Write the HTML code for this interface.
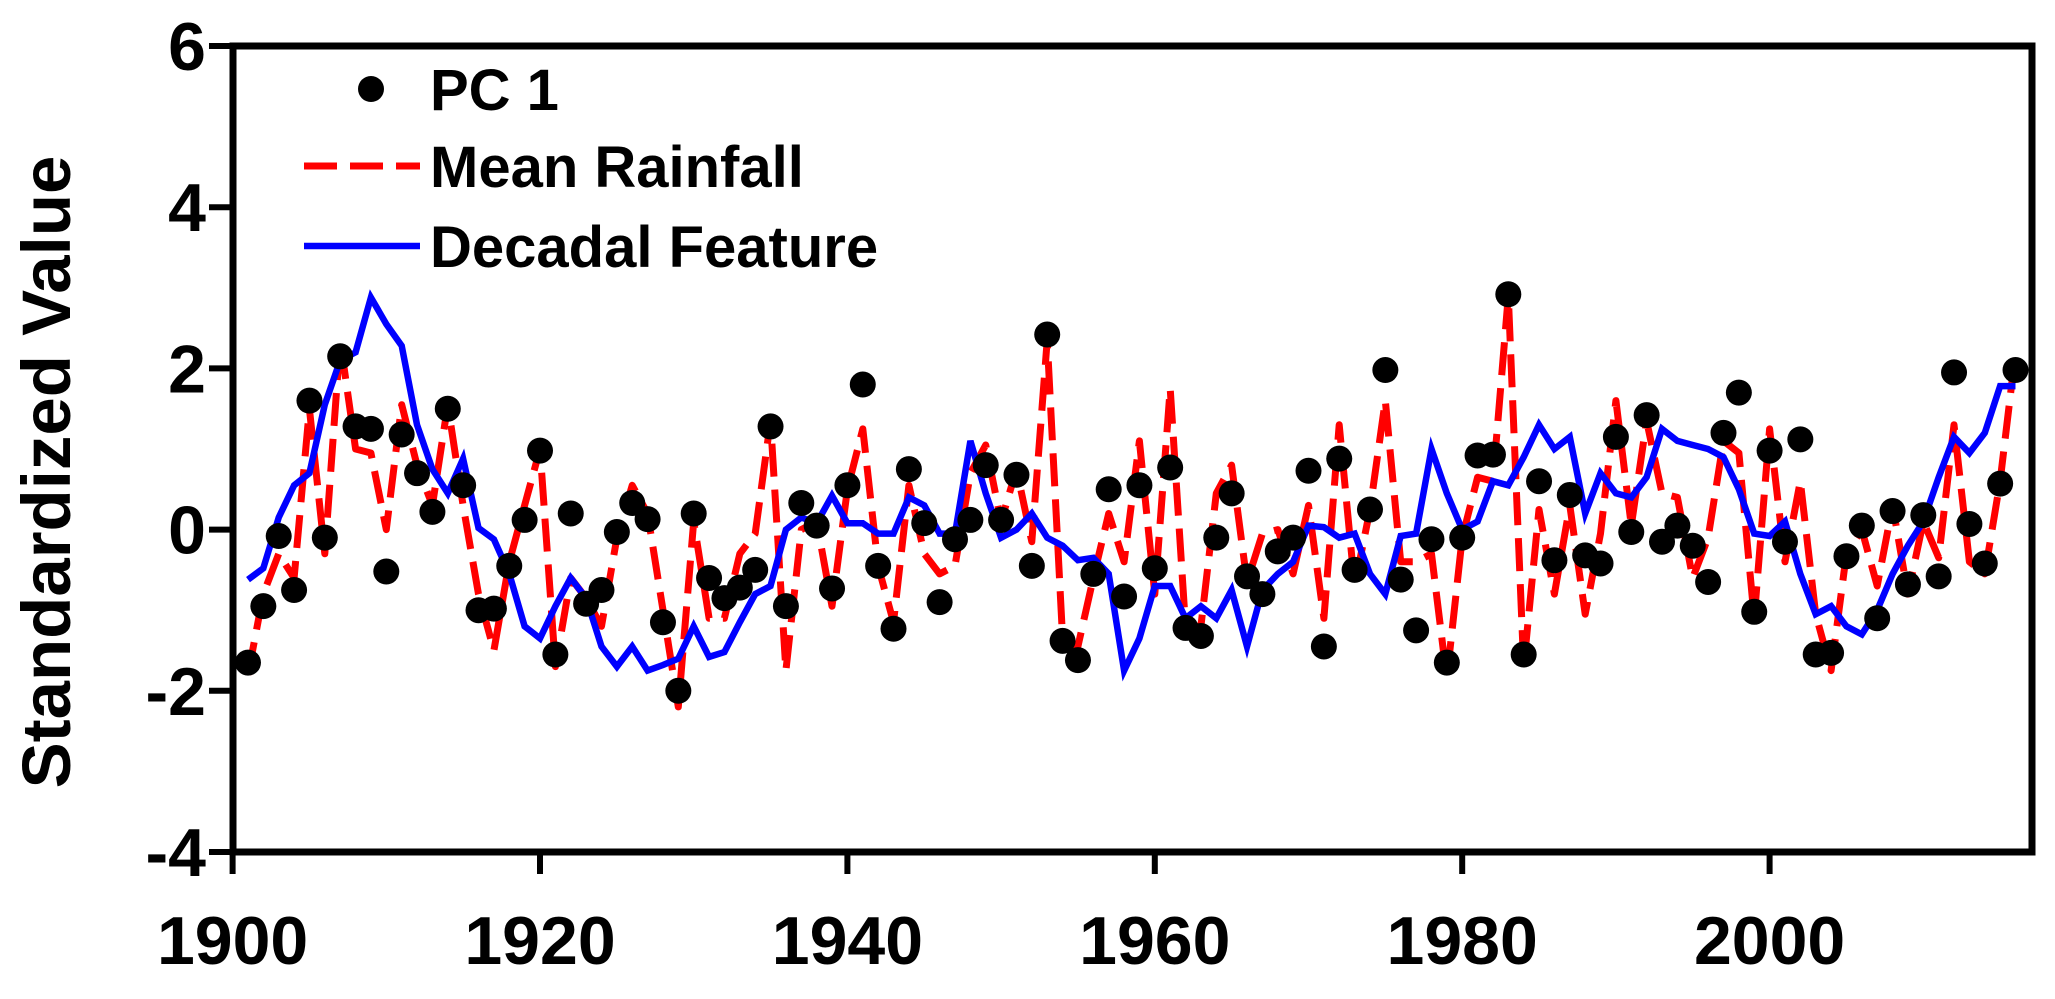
<!DOCTYPE html>
<html><head><meta charset="utf-8"><style>
html,body{margin:0;padding:0;background:#fff;}
svg{display:block;font-family:"Liberation Sans",Arial,sans-serif;font-weight:bold;}
</style></head><body>
<svg id="chart" width="2055" height="999" viewBox="0 0 2055 999">
<g id="plot"></g>
<g id="axes"></g>
<text transform="translate(70,472) rotate(-90)" text-anchor="middle" font-size="69" fill="#000">Standardized Value</text>
<g>
 <g><circle cx="371" cy="89" r="13" fill="#000"/><text x="430" y="110" font-size="58">PC 1</text></g>
 <g><line x1="304" y1="166" x2="420" y2="166" stroke="#f00" stroke-width="7" stroke-dasharray="33,13"/><text x="430" y="187" font-size="58">Mean Rainfall</text></g>
 <g><line x1="304" y1="246" x2="420" y2="246" stroke="#00f" stroke-width="6.5"/><text x="430" y="267" font-size="58">Decadal Feature</text></g>
</g>
</svg>
<script>
const startYear = 1901;
const pc1 = [-1.65,-0.95,-0.08,-0.75,1.6,-0.1,2.15,1.28,1.25,-0.52,1.18,0.7,0.22,1.5,0.55,-1.0,-0.98,-0.45,0.12,0.98,-1.55,0.2,-0.92,-0.75,-0.03,0.33,0.13,-1.15,-2.0,0.2,-0.6,-0.85,-0.72,-0.5,1.28,-0.95,0.33,0.05,-0.73,0.55,1.8,-0.45,-1.23,0.75,0.08,-0.9,-0.12,0.12,0.8,0.12,0.68,-0.45,2.42,-1.38,-1.62,-0.55,0.5,-0.83,0.55,-0.48,0.77,-1.22,-1.32,-0.1,0.45,-0.58,-0.8,-0.27,-0.1,0.73,-1.45,0.88,-0.5,0.25,1.98,-0.62,-1.25,-0.12,-1.65,-0.1,0.92,0.93,2.92,-1.55,0.6,-0.38,0.43,-0.32,-0.42,1.15,-0.03,1.42,-0.15,0.05,-0.2,-0.65,1.2,1.7,-1.02,0.98,-0.15,1.12,-1.55,-1.53,-0.33,0.05,-1.1,0.23,-0.68,0.18,-0.58,1.95,0.07,-0.42,0.57,1.98];
const rainfall = [-1.8,-0.8,-0.3,-0.6,1.5,-0.3,2.35,1.0,0.95,0.0,1.55,0.8,0.3,1.55,0.3,-0.8,-1.5,-0.4,0.3,1.0,-1.7,-0.6,-0.85,-1.2,-0.1,0.55,0.2,-1.0,-2.2,0.1,-1.1,-1.1,-0.3,-0.05,1.35,-1.75,0.0,0.1,-0.95,0.5,1.25,-0.45,-1.15,0.55,-0.3,-0.55,-0.45,0.7,1.05,0.1,0.75,-0.15,2.35,-1.35,-1.45,-0.6,0.2,-0.4,1.1,-0.8,1.75,-1.2,-1.2,0.45,0.8,-0.65,-0.05,0.0,-0.55,0.3,-1.1,1.3,-0.7,0.25,1.6,-0.4,-0.4,-0.3,-1.85,-0.1,0.65,0.6,2.9,-1.7,0.25,-0.8,0.3,-1.05,-0.05,1.6,0.05,1.35,0.45,0.4,-0.6,-0.1,1.1,0.95,-1.1,1.25,-0.4,0.6,-1.05,-1.75,-0.3,0.0,-0.7,0.3,-0.8,0.1,-0.35,1.3,-0.4,-0.55,0.6,2.2];
const decadal = [-0.62,-0.48,0.15,0.55,0.7,1.55,2.1,2.2,2.88,2.55,2.28,1.3,0.75,0.45,0.88,0.02,-0.12,-0.55,-1.2,-1.35,-0.95,-0.6,-0.85,-1.45,-1.7,-1.45,-1.75,-1.68,-1.6,-1.2,-1.58,-1.52,-1.15,-0.8,-0.7,0.0,0.15,0.08,0.42,0.08,0.08,-0.05,-0.05,0.4,0.3,-0.05,-0.05,1.1,0.45,-0.1,0.0,0.2,-0.1,-0.2,-0.38,-0.35,-0.55,-1.75,-1.35,-0.7,-0.7,-1.1,-0.95,-1.1,-0.75,-1.45,-0.75,-0.55,-0.4,0.05,0.03,-0.1,-0.05,-0.55,-0.8,-0.08,-0.05,1.0,0.45,0.0,0.1,0.6,0.55,0.9,1.3,1.0,1.15,0.2,0.7,0.45,0.4,0.65,1.25,1.1,1.05,1.0,0.9,0.5,-0.05,-0.08,0.1,-0.55,-1.05,-0.95,-1.2,-1.3,-1.0,-0.55,-0.2,0.1,0.65,1.15,0.95,1.2,1.78,1.78];
const xTicks = [1900,1920,1940,1960,1980,2000];
const yTicks = [-4,-2,0,2,4,6];

const NS="http://www.w3.org/2000/svg";
const L=233,R=2032,T=46,B=852;
function xs(yr){return 232.6+(yr-1900)*15.37;}
function ys(v){return 529.6-v*80.6;}
function mk(tag,attrs,parent){const e=document.createElementNS(NS,tag);for(const k in attrs)e.setAttribute(k,attrs[k]);parent.appendChild(e);return e;}
const plot=document.getElementById('plot'),axes=document.getElementById('axes');

const rp=rainfall.map((v,i)=>xs(startYear+i).toFixed(1)+','+ys(v).toFixed(1)).join(' ');
const rl=mk('polyline',{points:rp,fill:'none',stroke:'#f00','stroke-width':7,'stroke-dasharray':'33,13','stroke-linejoin':'round'},plot);


const dp=decadal.map((v,i)=>xs(startYear+i).toFixed(1)+','+ys(v).toFixed(1)).join(' ');
const dl=mk('polyline',{points:dp,fill:'none',stroke:'#00f','stroke-width':6.5,'stroke-linejoin':'miter'},plot);


pc1.forEach((v,i)=>{
 const c=mk('circle',{cx:xs(startYear+i),cy:ys(v),r:13,fill:'#000'},plot);
 
 
});

const box=mk('rect',{x:L,y:T,width:R-L,height:B-T,fill:'none',stroke:'#000','stroke-width':7},axes);


xTicks.forEach(t=>{
 const x=xs(t);
 const tk=mk('line',{x1:x,y1:B,x2:x,y2:B+22,stroke:'#000','stroke-width':6},axes);
 
 
 const lb=mk('text',{x:x,y:964,'text-anchor':'middle','font-size':68},axes);
 lb.textContent=t;
 
 
});
yTicks.forEach(t=>{
 const y=ys(t);
 const tk=mk('line',{x1:L-24,y1:y,x2:L,y2:y,stroke:'#000','stroke-width':6},axes);
 
 
 const lb=mk('text',{x:206,y:y+24,'text-anchor':'end','font-size':68},axes);
 lb.textContent=t;
 
 
});
</script>
</body></html>
